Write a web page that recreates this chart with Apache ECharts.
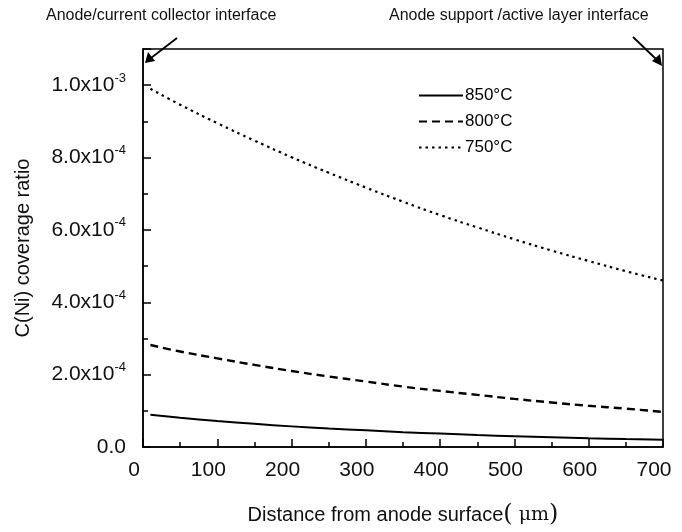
<!DOCTYPE html>
<html>
<head>
<meta charset="utf-8">
<script src="https://cdn.jsdelivr.net/npm/echarts@6/dist/echarts.min.js"></script>
<style>
  html, body { margin: 0; padding: 0; background: #fff; }
  #chart { width: 682px; height: 532px; }
</style>
</head>
<body>
<div id="chart"></div>
<script>
// distance from anode surface (um)
const distance = [10, 50, 100, 150, 200, 250, 300, 350, 400, 450, 500, 550, 600, 650, 700]
// C(Ni) coverage ratio
const c850 = [8.9e-5, 8.1e-5, 7.2e-5, 6.4e-5, 5.7e-5, 5.1e-5, 4.6e-5, 4.1e-5, 3.7e-5, 3.3e-5, 3.0e-5, 2.7e-5, 2.4e-5, 2.2e-5, 2.0e-5]
const c800 = [2.82e-4, 2.64e-4, 2.45e-4, 2.27e-4, 2.10e-4, 1.95e-4, 1.81e-4, 1.67e-4, 1.55e-4, 1.44e-4, 1.33e-4, 1.23e-4, 1.14e-4, 1.06e-4, 0.97e-4]
const c750 = [9.9e-4, 9.46e-4, 8.95e-4, 8.47e-4, 8.01e-4, 7.58e-4, 7.17e-4, 6.78e-4, 6.41e-4, 6.07e-4, 5.74e-4, 5.43e-4, 5.14e-4, 4.86e-4, 4.6e-4]
const seriesNames = ['850°C', '800°C', '750°C']

const font = 'Liberation Sans, Arial, sans-serif'

function pairs(ys) {
  return distance.map((x, i) => [x, ys[i]])
}

function yLabel(v) {
  if (v === 0) return '0.0'
  const exp = Math.floor(Math.log10(v) + 1e-9)
  const mant = (v / Math.pow(10, exp)).toFixed(1)
  return mant + 'x10{sup|' + exp + '}'
}

const chart = echarts.init(document.getElementById('chart'))

chart.setOption({
  backgroundColor: '#fff',
  animation: false,
  grid: {
    left: 143,
    right: 19,
    top: 49,
    bottom: 78,
    show: true,
    borderColor: '#000',
    borderWidth: 1.5
  },
  legend: {
    left: 413,
    top: 82,
    orient: 'vertical',
    itemWidth: 44,
    itemHeight: 10,
    itemGap: 9,
    itemStyle: { opacity: 0 },
    textStyle: { fontFamily: font, fontSize: 17, color: '#000', padding: [0, 0, 0, -3] },
    data: seriesNames
  },
  xAxis: {
    type: 'value',
    min: 0,
    max: 700,
    interval: 100,
    name: 'Distance from anode surface{mu|(}{muS| μm}{mu|)}',
    nameLocation: 'middle',
    nameGap: 56,
    nameTextStyle: {
      fontFamily: font,
      fontSize: 20,
      color: '#111',
      rich: {
        mu: { fontFamily: 'DejaVu Serif, serif', fontSize: 24, color: '#111' },
        muS: { fontFamily: 'DejaVu Serif, serif', fontSize: 19, color: '#111' }
      }
    },
    axisLine: { lineStyle: { color: '#000', width: 1.5 } },
    axisTick: { inside: true, length: 8, lineStyle: { color: '#000', width: 1.5 } },
    minorTick: { show: true, splitNumber: 2, length: 5, lineStyle: { color: '#000', width: 1.5 } },
    splitLine: { show: false },
    axisLabel: {
      fontFamily: font,
      fontSize: 21,
      color: '#111',
      margin: 13,
      padding: [0, 18, 0, 0]
    }
  },
  yAxis: {
    type: 'value',
    min: 0,
    max: 1.1e-3,
    interval: 2e-4,
    name: 'C(Ni) coverage ratio',
    nameLocation: 'middle',
    nameGap: 110,
    nameTextStyle: { fontFamily: font, fontSize: 20, color: '#111' },
    axisLine: { lineStyle: { color: '#000', width: 1.5 } },
    axisTick: { inside: true, length: 8, lineStyle: { color: '#000', width: 1.5 } },
    minorTick: { show: true, splitNumber: 2, length: 5, lineStyle: { color: '#000', width: 1.5 } },
    splitLine: { show: false },
    axisLabel: {
      fontFamily: font,
      fontSize: 21,
      color: '#111',
      margin: 17,
      showMaxLabel: false,
      formatter: yLabel,
      rich: {
        sup: { fontFamily: font, fontSize: 13, color: '#111', verticalAlign: 'top', padding: [0, 0, 14, 0] }
      }
    }
  },
  graphic: [
    {
      type: 'text',
      left: 46,
      top: 8,
      style: { text: 'Anode/current collector interface', font: '16px ' + font, fill: '#111' }
    },
    {
      type: 'text',
      left: 389,
      top: 8,
      style: { text: 'Anode support /active layer interface', font: '16px ' + font, fill: '#111' }
    },
    {
      type: 'line',
      shape: { x1: 177, y1: 38, x2: 151, y2: 58 },
      style: { stroke: '#000', lineWidth: 1.8 }
    },
    {
      type: 'polygon',
      shape: { points: [[145, 63], [148, 52], [155, 61]] },
      style: { fill: '#000' }
    },
    {
      type: 'line',
      shape: { x1: 633, y1: 37, x2: 657, y2: 60 },
      style: { stroke: '#000', lineWidth: 1.8 }
    },
    {
      type: 'polygon',
      shape: { points: [[662, 66], [652, 61], [660, 54]] },
      style: { fill: '#000' }
    }
  ],
  series: [
    {
      name: seriesNames[0],
      type: 'line',
      data: pairs(c850),
      smooth: true,
      showSymbol: false,
      symbol: 'none',
      lineStyle: { color: '#000', width: 2, type: 'solid' },
      itemStyle: { color: '#000' }
    },
    {
      name: seriesNames[1],
      type: 'line',
      data: pairs(c800),
      smooth: true,
      showSymbol: false,
      symbol: 'none',
      lineStyle: { color: '#000', width: 2.4, type: [8, 5] },
      itemStyle: { color: '#000' }
    },
    {
      name: seriesNames[2],
      type: 'line',
      data: pairs(c750),
      smooth: true,
      showSymbol: false,
      symbol: 'none',
      lineStyle: { color: '#000', width: 2.2, type: [2.5, 4] },
      itemStyle: { color: '#000' }
    }
  ]
})
</script>
</body>
</html>
